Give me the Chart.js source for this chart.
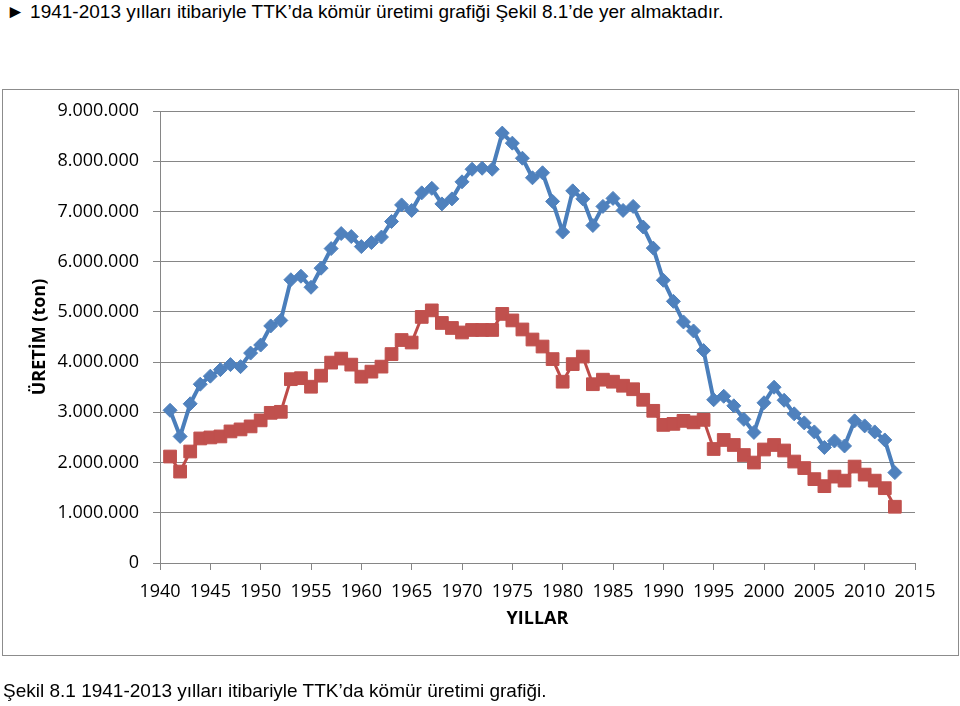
<!DOCTYPE html>
<html lang="tr">
<head>
<meta charset="utf-8">
<title>TTK kömür üretimi 1941-2013</title>
<script src="https://cdn.jsdelivr.net/npm/chart.js@4.4.1/dist/chart.umd.min.js"></script>
<style>
  html, body { margin: 0; padding: 0; background: #fff; }
  .page { position: relative; width: 960px; height: 706px; overflow: hidden; }
  .intro, .caption {
    position: absolute; left: 0; margin: 0; white-space: nowrap;
    font-family: "Liberation Sans", Arial, sans-serif; font-size: 19px; color: #000;
  }
  .intro { top: 1px; left: 6px; }
  .caption { top: 680px; left: 3px; }
  .frame {
    position: absolute; left: 2px; top: 89px; width: 955px; height: 565px;
    border: 1px solid #8c8c8c;
  }
  #kömürChart { position: absolute; left: 0; top: 0; }
</style>
</head>
<body>
<div class="page">
  <p class="intro">► 1941-2013 yılları itibariyle TTK’da kömür üretimi grafiği Şekil 8.1’de yer almaktadır.</p>
  <div class="frame"></div>
  <canvas id="kömürChart" width="960" height="706"></canvas>
  <p class="caption">Şekil 8.1 1941-2013 yılları itibariyle TTK’da kömür üretimi grafiği.</p>
</div>

<script>
// yıllar (x ekseni)
const years = [
  1941, 1942, 1943, 1944, 1945, 1946, 1947, 1948, 1949, 1950,
  1951, 1952, 1953, 1954, 1955, 1956, 1957, 1958, 1959, 1960,
  1961, 1962, 1963, 1964, 1965, 1966, 1967, 1968, 1969, 1970,
  1971, 1972, 1973, 1974, 1975, 1976, 1977, 1978, 1979, 1980,
  1981, 1982, 1983, 1984, 1985, 1986, 1987, 1988, 1989, 1990,
  1991, 1992, 1993, 1994, 1995, 1996, 1997, 1998, 1999, 2000,
  2001, 2002, 2003, 2004, 2005, 2006, 2007, 2008, 2009, 2010,
  2011, 2012, 2013
];

// mavi seri (ton)
const blueSeries = [
  3040000, 2520000, 3170000, 3560000, 3720000, 3850000, 3950000, 3910000, 4180000, 4340000,
  4720000, 4830000, 5640000, 5710000, 5490000, 5870000, 6260000, 6560000, 6500000, 6300000,
  6380000, 6490000, 6800000, 7130000, 7020000, 7370000, 7460000, 7150000, 7250000, 7590000,
  7840000, 7860000, 7840000, 8560000, 8360000, 8060000, 7670000, 7770000, 7200000, 6590000,
  7410000, 7250000, 6720000, 7100000, 7260000, 7020000, 7100000, 6690000, 6270000, 5630000,
  5210000, 4800000, 4620000, 4230000, 3250000, 3320000, 3130000, 2860000, 2600000, 3190000,
  3500000, 3240000, 2970000, 2790000, 2610000, 2300000, 2430000, 2330000, 2830000, 2730000,
  2610000, 2450000, 1800000
];

// kırmızı seri (ton)
const redSeries = [
  2120000, 1820000, 2220000, 2480000, 2500000, 2520000, 2620000, 2660000, 2720000, 2840000,
  2990000, 3010000, 3660000, 3680000, 3510000, 3730000, 3990000, 4070000, 3950000, 3710000,
  3810000, 3910000, 4160000, 4440000, 4390000, 4900000, 5030000, 4780000, 4680000, 4590000,
  4640000, 4640000, 4640000, 4960000, 4830000, 4650000, 4450000, 4310000, 4060000, 3610000,
  3960000, 4110000, 3560000, 3650000, 3610000, 3530000, 3460000, 3250000, 3030000, 2750000,
  2770000, 2830000, 2800000, 2850000, 2270000, 2450000, 2350000, 2150000, 2000000, 2260000,
  2350000, 2240000, 2020000, 1890000, 1670000, 1530000, 1720000, 1640000, 1920000, 1760000,
  1640000, 1490000, 1120000
];

// eksen sınırları / adımları
const yearTicks = [1940, 1945, 1950, 1955, 1960, 1965, 1970, 1975, 1980, 1985, 1990, 1995, 2000, 2005, 2010, 2015];
const yMax = 9000000;
const yStep = 1000000;

const gridGrey = '#868686';

// 9000000 -> "9.000.000"
function dotted(v) {
  return String(Math.round(v)).replace(/\B(?=(\d{3})+(?!\d))/g, '.');
}

const ctx = document.getElementById('kömürChart').getContext('2d');
new Chart(ctx, {
  type: 'line',
  data: {
    datasets: [
      {
        label: 'Seri 1',
        data: years.map((y, i) => ({ x: y, y: blueSeries[i] })),
        borderColor: '#4a7ebb',
        backgroundColor: '#4f81bd',
        borderWidth: 4,
        pointStyle: 'rectRot',
        pointRadius: 7,
        pointBorderWidth: 1,
        pointBorderColor: '#4f81bd',
        pointBackgroundColor: '#4f81bd',
        tension: 0,
      },
      {
        label: 'Seri 2',
        data: years.map((y, i) => ({ x: y, y: redSeries[i] })),
        borderColor: '#be4b48',
        backgroundColor: '#c0504d',
        borderWidth: 3,
        pointStyle: 'rect',
        pointRadius: 9,
        pointBorderWidth: 1,
        pointBorderColor: '#c0504d',
        pointBackgroundColor: '#c0504d',
        tension: 0,
      }
    ]
  },
  options: {
    responsive: false,
    animation: false,
    layout: {
      padding: { top: 111, right: 45, bottom: 76, left: 0 }
    },
    plugins: {
      legend: { display: false },
      tooltip: { enabled: false },
    },
    scales: {
      x: {
        type: 'linear',
        min: yearTicks[0],
        max: yearTicks[yearTicks.length - 1],
        afterBuildTicks: (scale) => {
          scale.ticks = yearTicks.map(v => ({ value: v }));
        },
        afterFit: (scale) => { scale.height = 67; },
        ticks: {
          callback: (v) => String(v),
          color: '#000',
          font: { family: '"Open Sans", sans-serif', size: 18 },
          padding: 11,
          maxRotation: 0,
          autoSkip: false,
        },
        grid: {
          drawOnChartArea: false,
          color: gridGrey,
          tickLength: 7,
        },
        border: { color: gridGrey, width: 1 },
        title: {
          display: true,
          text: 'YILLAR',
          color: '#000',
          font: { family: '"Open Sans", sans-serif', size: 18, weight: 'bold' },
          padding: { top: 0, bottom: 0 },
        },
      },
      y: {
        min: 0,
        max: yMax,
        afterFit: (scale) => { scale.width = 160; },
        ticks: {
          stepSize: yStep,
          callback: (v) => dotted(v),
          color: '#000',
          font: { family: '"Open Sans", sans-serif', size: 18 },
          padding: 14,
        },
        grid: {
          color: gridGrey,
          tickLength: 7,
        },
        border: { color: gridGrey, width: 1 },
        title: {
          display: true,
          text: 'ÜRETİM (ton)',
          color: '#000',
          font: { family: '"Open Sans", sans-serif', size: 18, weight: 'bold' },
          padding: { top: 29, bottom: 0 },
        },
      },
    },
  },
});
</script>
</body>
</html>
